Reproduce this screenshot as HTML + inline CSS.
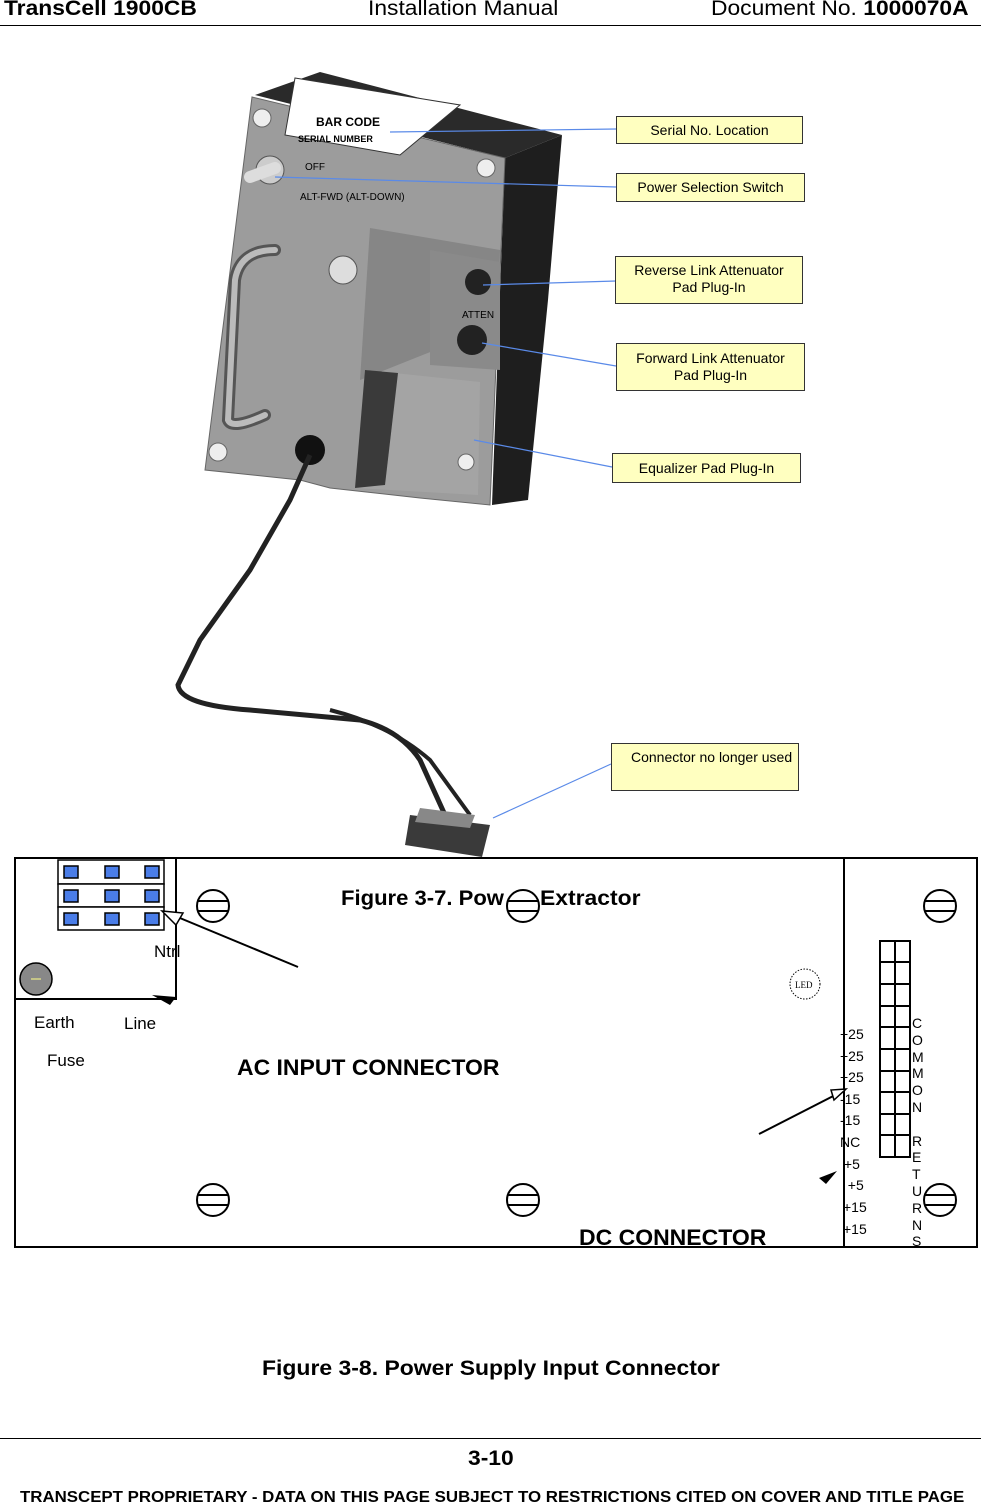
<!DOCTYPE html>
<html><head><meta charset="utf-8"><style>
body{margin:0;width:981px;height:1505px;background:#fff;position:relative;overflow:hidden;font-family:"Liberation Sans",Arial,sans-serif}
.t{position:absolute;white-space:nowrap;transform-origin:0 0}
.s{transform:scaleX(1.087)}
.lb{position:absolute;background:#ffffc0;border:1px solid #333;font-size:14px;text-align:center;line-height:17px;box-sizing:border-box}
</style></head><body>
<div class="t s" style="left:4px;top:-3px;font-size:21px;font-weight:bold">TransCell 1900CB</div>
<div class="t s" style="left:368px;top:-3px;font-size:21px">Installation Manual</div>
<div class="t s" style="left:711px;top:-3px;font-size:21px">Document No. <b>1000070A</b></div>
<div style="position:absolute;left:0;top:25px;width:981px;height:1px;background:#000"></div>

<svg width="981" height="1505" style="position:absolute;left:0;top:0">
<polygon points="255,95 320,72 562,135 505,158" fill="#2a2a2a"/>
<polygon points="505,158 562,135 548,300 528,500 492,505" fill="#1e1e1e"/>
<polygon points="252,97 505,158 490,505 420,498 330,488 300,480 205,470" fill="#9c9c9c" stroke="#666"/>
<polygon points="370,228 500,250 498,325 360,380" fill="#868686"/>
<polygon points="430,250 500,262 500,370 430,365" fill="#8a8a8a"/>
<polygon points="365,370 480,382 478,495 355,488" fill="#a4a4a4"/>
<polygon points="365,370 398,373 385,485 355,488" fill="#3a3a3a"/>
<polygon points="295,78 460,105 400,155 285,135" fill="#fff" stroke="#333"/>
<text x="316" y="126" font-size="12" font-weight="bold" font-family="Liberation Sans">BAR CODE</text>
<text x="298" y="142" font-size="9" font-weight="bold" font-family="Liberation Sans">SERIAL NUMBER</text>
<text x="305" y="170" font-size="10" font-family="Liberation Sans">OFF</text>
<text x="300" y="200" font-size="10" font-family="Liberation Sans">ALT-FWD (ALT-DOWN)</text>
<text x="462" y="318" font-size="10" font-family="Liberation Sans">ATTEN</text>
<path d="M275,250 Q240,250 235,280 L228,420 Q232,430 265,415" fill="none" stroke="#555" stroke-width="12" stroke-linecap="round"/>
<path d="M275,250 Q240,250 235,280 L228,420 Q232,430 265,415" fill="none" stroke="#bbb" stroke-width="6" stroke-linecap="round"/>
<circle cx="343" cy="270" r="14" fill="#ddd" stroke="#555"/>
<circle cx="478" cy="282" r="13" fill="#222"/>
<circle cx="472" cy="340" r="15" fill="#222"/>
<circle cx="310" cy="450" r="15" fill="#111"/>
<circle cx="262" cy="118" r="9" fill="#eee" stroke="#666"/>
<circle cx="486" cy="168" r="9" fill="#eee" stroke="#666"/>
<circle cx="218" cy="452" r="9" fill="#eee" stroke="#666"/>
<circle cx="466" cy="462" r="8" fill="#eee" stroke="#666"/>
<circle cx="270" cy="170" r="14" fill="#ccc" stroke="#555"/>
<line x1="250" y1="177" x2="275" y2="168" stroke="#ddd" stroke-width="12" stroke-linecap="round"/>
<path d="M310,455 L290,500 L250,570 L200,640 L178,685 Q180,705 250,710 L360,720 Q400,730 420,760 L445,815" fill="none" stroke="#222" stroke-width="5"/>
<path d="M330,710 Q390,725 430,760 L470,815" fill="none" stroke="#222" stroke-width="4"/>
<polygon points="410,815 490,825 482,857 405,845" fill="#3a3a3a"/>
<polygon points="420,808 475,815 470,828 415,822" fill="#888"/>
<g stroke="#5a8ae8" stroke-width="1.2">
<line x1="390" y1="132" x2="616" y2="129"/>
<line x1="275" y1="177" x2="616" y2="187"/>
<line x1="483" y1="285" x2="616" y2="281"/>
<line x1="482" y1="343" x2="616" y2="366"/>
<line x1="474" y1="440" x2="612" y2="467"/>
<line x1="493" y1="818" x2="611" y2="764"/>
</g>
<rect x="15" y="858" width="962" height="389" fill="none" stroke="#000" stroke-width="2"/>
<line x1="844" y1="858" x2="844" y2="1247" stroke="#000" stroke-width="2"/>
<polyline points="176,858 176,999 15,999" fill="none" stroke="#000" stroke-width="2"/>
<g stroke="#000" stroke-width="1.5" fill="#fff">
<rect x="58" y="860" width="106" height="24"/><rect x="58" y="884" width="106" height="23"/><rect x="58" y="907" width="106" height="23"/>
</g>
<g fill="#4a7de8" stroke="#000" stroke-width="1.5">
<rect x="64" y="866" width="14" height="12"/><rect x="105" y="866" width="14" height="12"/><rect x="145" y="866" width="14" height="12"/>
<rect x="64" y="890" width="14" height="12"/><rect x="105" y="890" width="14" height="12"/><rect x="145" y="890" width="14" height="12"/>
<rect x="64" y="913" width="14" height="12"/><rect x="105" y="913" width="14" height="12"/><rect x="145" y="913" width="14" height="12"/>
</g>
<circle cx="36" cy="979" r="16" fill="#888" stroke="#000" stroke-width="1.5"/>
<line x1="31" y1="979" x2="41" y2="979" stroke="#ff8"/>
<line x1="298" y1="967" x2="163" y2="911" stroke="#000" stroke-width="2"/>
<polygon points="162,911 183,913 176,925" fill="#fff" stroke="#000" stroke-width="1.5"/>
<polygon points="152,995 176,997 170,1005" fill="#000"/>
<g fill="#fff" stroke="#000" stroke-width="2">
<circle cx="213" cy="906" r="16"/><circle cx="523" cy="906" r="16"/><circle cx="940" cy="906" r="16"/>
<circle cx="213" cy="1200" r="16"/><circle cx="523" cy="1200" r="16"/><circle cx="940" cy="1200" r="16"/>
</g>
<g stroke="#000" stroke-width="2">
<line x1="198" y1="901" x2="228" y2="901"/><line x1="198" y1="911" x2="228" y2="911"/>
<line x1="508" y1="901" x2="538" y2="901"/><line x1="508" y1="911" x2="538" y2="911"/>
<line x1="925" y1="901" x2="955" y2="901"/><line x1="925" y1="911" x2="955" y2="911"/>
<line x1="198" y1="1195" x2="228" y2="1195"/><line x1="198" y1="1205" x2="228" y2="1205"/>
<line x1="508" y1="1195" x2="538" y2="1195"/><line x1="508" y1="1205" x2="538" y2="1205"/>
<line x1="925" y1="1195" x2="955" y2="1195"/><line x1="925" y1="1205" x2="955" y2="1205"/>
</g>
<circle cx="805" cy="984" r="15" fill="none" stroke="#000" stroke-dasharray="1.5,1.5"/>
<text x="795" y="988" font-size="9" font-family="Liberation Serif">LED</text>
<g fill="none" stroke="#000" stroke-width="2">
<rect x="880" y="941" width="30" height="216"/>
<line x1="895" y1="941" x2="895" y2="1157"/>
<line x1="880" y1="962" x2="910" y2="962"/><line x1="880" y1="984" x2="910" y2="984"/><line x1="880" y1="1006" x2="910" y2="1006"/>
<line x1="880" y1="1027" x2="910" y2="1027"/><line x1="880" y1="1049" x2="910" y2="1049"/><line x1="880" y1="1071" x2="910" y2="1071"/>
<line x1="880" y1="1092" x2="910" y2="1092"/><line x1="880" y1="1114" x2="910" y2="1114"/><line x1="880" y1="1135" x2="910" y2="1135"/>
</g>
<line x1="759" y1="1134" x2="845" y2="1090" stroke="#000" stroke-width="2"/>
<polygon points="846,1089 831,1090 834,1100" fill="#fff" stroke="#000" stroke-width="1.5"/>
<polygon points="819,1178 837,1171 826,1184" fill="#000"/>
</svg>

<div class="lb" style="left:616px;top:116px;width:187px;height:28px;line-height:26px">Serial No. Location</div>
<div class="lb" style="left:616px;top:173px;width:189px;height:29px;line-height:27px">Power Selection Switch</div>
<div class="lb" style="left:615px;top:256px;width:188px;height:48px;padding-top:5px">Reverse Link Attenuator<br>Pad Plug-In</div>
<div class="lb" style="left:616px;top:343px;width:189px;height:48px;padding-top:6px">Forward Link Attenuator<br>Pad Plug-In</div>
<div class="lb" style="left:612px;top:453px;width:189px;height:30px;line-height:28px">Equalizer Pad Plug-In</div>
<div class="lb" style="left:611px;top:743px;width:188px;height:48px;padding-top:5px;text-align:left;padding-left:19px">Connector no longer used</div>

<div class="t" style="left:341px;top:887px;font-size:21px;font-weight:bold;transform:scaleX(1.05)">Figure 3-7. Pow</div>
<div class="t" style="left:540px;top:887px;font-size:21px;font-weight:bold;transform:scaleX(1.09)">Extractor</div>
<div class="t" style="left:154px;top:942px;font-size:17px">Ntrl</div>
<div class="t" style="left:34px;top:1013px;font-size:17px">Earth</div>
<div class="t" style="left:124px;top:1014px;font-size:17px">Line</div>
<div class="t" style="left:47px;top:1051px;font-size:17px">Fuse</div>
<div class="t" style="left:237px;top:1055px;font-size:22px;font-weight:bold;transform:scaleX(1.044)">AC INPUT CONNECTOR</div>
<div class="t" style="left:579px;top:1225px;font-size:22px;font-weight:bold;transform:scaleX(1.045)">DC CONNECTOR</div>
<div class="t" style="left:840px;top:1024px;font-size:14px;line-height:21.6px">+25<br>+25<br>+25<br>-15<br>-15<br>NC<br>&nbsp;+5<br>&nbsp;&nbsp;+5</div>
<div class="t" style="left:843px;top:1196px;font-size:14px;line-height:22px">+15<br>+15</div>
<div class="t" style="left:912px;top:1015px;font-size:14px;line-height:16.8px">C<br>O<br>M<br>M<br>O<br>N<br>&nbsp;<br>R<br>E<br>T<br>U<br>R<br>N<br>S</div>

<div class="t" style="left:262px;top:1357px;font-size:21px;font-weight:bold;transform:scaleX(1.093)">Figure 3-8. Power Supply Input Connector</div>
<div style="position:absolute;left:0;top:1438px;width:981px;height:1px;background:#000"></div>
<div class="t s" style="left:468px;top:1447px;font-size:21px;font-weight:bold">3-10</div>
<div class="t s" style="left:20px;top:1489px;font-size:15.5px;font-weight:bold">TRANSCEPT PROPRIETARY - DATA ON THIS PAGE SUBJECT TO RESTRICTIONS CITED ON COVER AND TITLE PAGE</div>
</body></html>
